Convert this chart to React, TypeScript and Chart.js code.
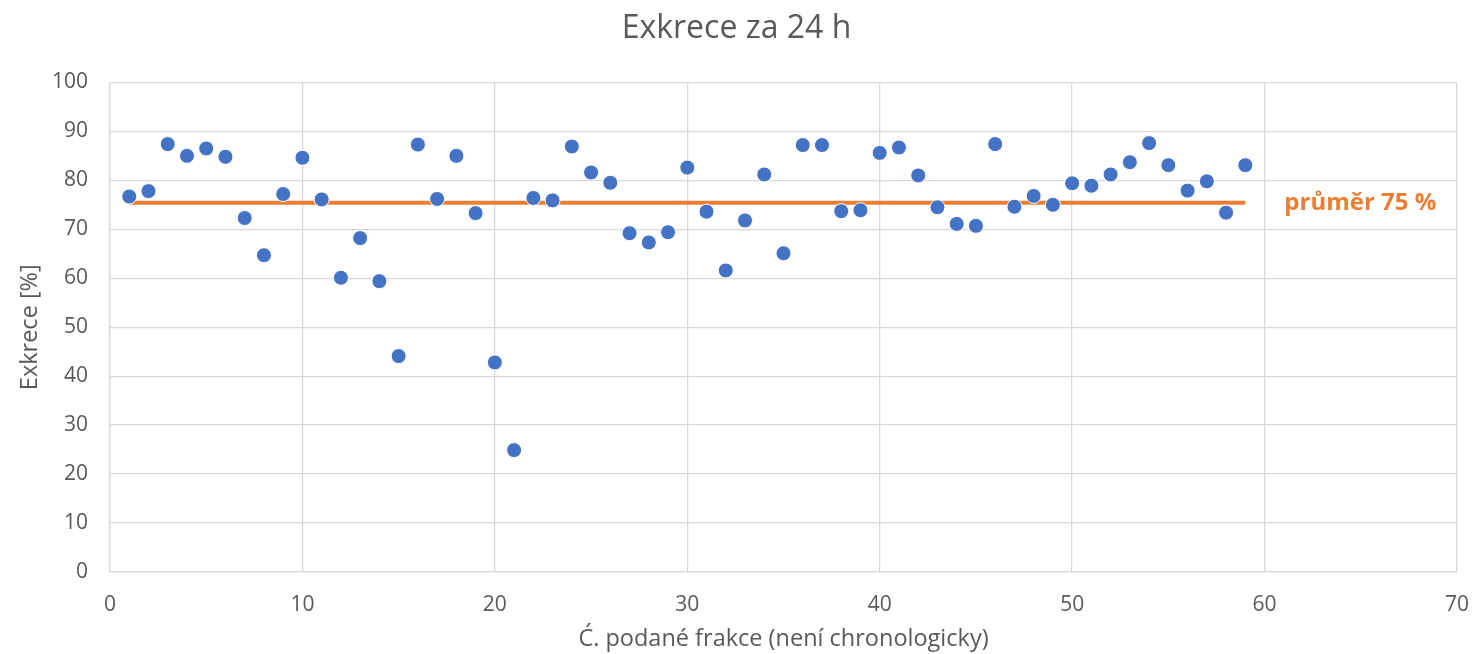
import React, { useEffect, useRef } from "react";
import { Chart, registerables } from "chart.js";

Chart.register(...registerables);

// Fraction number (x) and 24 h excretion in percent (y)
const fractionNumbers: number[] = [
  1, 2, 3, 4, 5, 6, 7, 8, 9, 10,
  11, 12, 13, 14, 15, 16, 17, 18, 19, 20,
  21, 22, 23, 24, 25, 26, 27, 28, 29, 30,
  31, 32, 33, 34, 35, 36, 37, 38, 39, 40,
  41, 42, 43, 44, 45, 46, 47, 48, 49, 50,
  51, 52, 53, 54, 55, 56, 57, 58, 59,
];

const excretionValues: number[] = [
  76.7, 77.8, 87.4, 85.0, 86.5, 84.8, 72.3, 64.7, 77.2, 84.6,
  76.1, 60.1, 68.2, 59.4, 44.1, 87.3, 76.2, 85.0, 73.3, 42.8,
  24.9, 76.4, 75.9, 86.9, 81.6, 79.5, 69.2, 67.3, 69.4, 82.6,
  73.6, 61.6, 71.8, 81.2, 65.1, 87.2, 87.2, 73.7, 73.9, 85.6,
  86.7, 81.0, 74.5, 71.1, 70.7, 87.4, 74.6, 76.8, 75.0, 79.4,
  78.9, 81.2, 83.7, 87.6, 83.1, 77.9, 79.8, 73.4, 83.1,
];

const yTicks: number[] = [0, 10, 20, 30, 40, 50, 60, 70, 80, 90, 100];
const xTicks: number[] = [0, 10, 20, 30, 40, 50, 60, 70];

const chartTitle = "Exkrece za 24 h";
const xAxisTitle = "Ć. podané frakce (není chronologicky)";
const yAxisTitle = "Exkrece [%]";

// Average excretion across all fractions
const meanValue =
  excretionValues.reduce((sum, v) => sum + v, 0) / excretionValues.length;
const meanLabel = `průměr ${Math.round(meanValue)} %`;

const FONT = "'Open Sans', sans-serif";
const TEXT = "#595959";
const GRID = "#d9d9d9";
const BLUE = "#4472C4";
const ORANGE = "#ED7D31";

// Writes the average label just right of the end of the mean line
const meanLabelPlugin = {
  id: "meanLabel",
  afterDatasetsDraw(chart: any) {
    const { ctx, scales } = chart;
    const lastX = fractionNumbers[fractionNumbers.length - 1];
    const px = scales.x.getPixelForValue(lastX) + 39;
    const py = scales.y.getPixelForValue(meanValue);
    ctx.save();
    ctx.font = `bold 24px ${FONT}`;
    ctx.fillStyle = ORANGE;
    ctx.textAlign = "left";
    ctx.textBaseline = "middle";
    ctx.fillText(meanLabel, px, py);
    ctx.restore();
  },
};

export default function App() {
  const canvasRef = useRef<HTMLCanvasElement | null>(null);

  useEffect(() => {
    const canvas = canvasRef.current;
    if (!canvas) return;

    const points = fractionNumbers.map((x, i) => ({ x, y: excretionValues[i] }));
    const meanLine = [
      { x: fractionNumbers[0], y: meanValue },
      { x: fractionNumbers[fractionNumbers.length - 1], y: meanValue },
    ];

    const chart = new Chart(canvas, {
      type: "scatter",
      data: {
        datasets: [
          {
            label: "Exkrece",
            data: points,
            backgroundColor: BLUE,
            borderColor: "#ffffff",
            borderWidth: 1,
            pointRadius: 7.5,
            order: 0,
          },
          {
            label: "průměr",
            data: meanLine,
            showLine: true,
            borderColor: ORANGE,
            backgroundColor: ORANGE,
            borderWidth: 4,
            pointRadius: 0,
            order: 1,
          } as any,
        ],
      },
      options: {
        animation: false,
        responsive: false,
        maintainAspectRatio: false,
        layout: { padding: { left: 0, right: 0, top: 0, bottom: 0 } },
        plugins: {
          legend: { display: false },
          tooltip: { enabled: false },
          title: {
            display: true,
            text: chartTitle,
            color: TEXT,
            font: { family: FONT, size: 32, weight: "normal" },
            padding: { top: 10, bottom: 34 },
          },
        },
        scales: {
          x: {
            type: "linear",
            min: 0,
            max: 70,
            afterBuildTicks: (scale: any) => {
              scale.ticks = xTicks.map((v) => ({ value: v }));
            },
            afterFit: (scale: any) => {
              scale.height = 82;
            },
            ticks: {
              color: TEXT,
              padding: 4,
              font: { family: FONT, size: 21 },
            },
            grid: {
              color: GRID,
              lineWidth: 1.3,
              drawTicks: true,
              tickLength: 16,
              tickColor: "rgba(0,0,0,0)",
            },
            border: { color: GRID, width: 1.3 },
            title: {
              display: true,
              text: xAxisTitle,
              color: TEXT,
              font: { family: FONT, size: 23.5 },
              padding: { top: 0, bottom: 1 },
            },
          },
          y: {
            type: "linear",
            min: 0,
            max: 100,
            afterBuildTicks: (scale: any) => {
              scale.ticks = yTicks.map((v) => ({ value: v }));
            },
            afterFit: (scale: any) => {
              scale.width = 110;
            },
            ticks: {
              color: TEXT,
              padding: 22,
              font: { family: FONT, size: 21 },
            },
            grid: { color: GRID, lineWidth: 1.3, drawTicks: false },
            border: { color: GRID, width: 1.3 },
            title: {
              display: true,
              text: yAxisTitle,
              color: TEXT,
              font: { family: FONT, size: 23.5 },
              padding: { top: 16, bottom: 0 },
            },
          },
        },
      },
      plugins: [meanLabelPlugin],
    });

    return () => chart.destroy();
  }, []);

  return (
    <div
      style={{
        position: "fixed",
        left: 0,
        top: 0,
        width: 1473,
        height: 654,
        background: "#ffffff",
      }}
    >
      <canvas ref={canvasRef} width={1473} height={654} />
    </div>
  );
}
